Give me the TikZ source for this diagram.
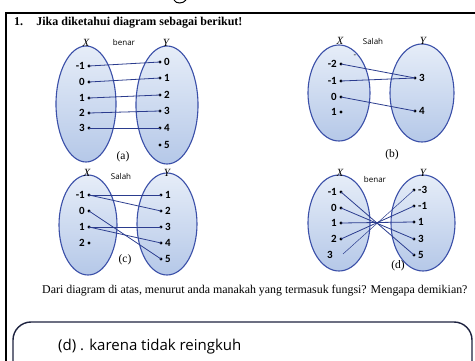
\documentclass[tikz,border=0pt]{standalone}
\usepackage{fontspec}
\usetikzlibrary{shapes.geometric}
\setmainfont{Liberation Serif}
\newfontfamily\numfont{Carlito}
\newfontfamily\handfont{Open Sans}
\definecolor{ellline}{HTML}{3A4FA8}
\definecolor{ellA}{HTML}{E6EDF8}
\definecolor{ellB}{HTML}{B5C8E8}
\definecolor{lnkcol}{HTML}{2B3C8E}
\definecolor{boxcol}{HTML}{1E2340}
\tikzset{
  ell/.style={draw=ellline, line width=1.1pt, top color=ellA, bottom color=ellB},
  lnk/.style={draw=lnkcol, line width=0.8pt},
  dotnode/.style={circle, fill=black, inner sep=0pt, minimum size=3.2pt},
  num/.style={font=\numfont\bfseries\fontsize{11}{11}\selectfont, inner sep=1pt},
  setlab/.style={font=\itshape\fontsize{11}{11}\selectfont, inner sep=0pt},
  sublab/.style={font=\fontsize{11.5}{12}\selectfont, inner sep=0pt},
  hand/.style={font=\handfont\fontsize{8}{9}\selectfont, inner sep=0pt},
}
\begin{document}
\begin{tikzpicture}[x=1pt,y=-1pt]
\useasboundingbox (0,0) rectangle (475,361);
\fill[white] (0,0) rectangle (475,361);
% fragment at top
\draw[line width=1pt] (174,0) .. controls (176,4) and (183,4) .. (186,0);
% frame
\draw[line width=1.6pt] (6,362) -- (6,13) -- (476,13);
\node[anchor=base west, font=\bfseries\fontsize{12}{13}\selectfont, inner sep=0pt] (title) at (14,26) {1.\hspace{1.1em}Jika diketahui diagram sebagai berikut!};

% ---------- (a)
\node[ell, ellipse, minimum width=60pt, minimum height=116pt] (aX) at (86,104) {};
\node[ell, ellipse, minimum width=62pt, minimum height=118pt] (aY) at (167,105) {};
\node[setlab] (aXl) at (86,43) {X};
\node[setlab] (aYl) at (166,43) {Y};
\node[hand] (aH) at (124,43) {benar};
\node[sublab] (aC) at (123,157) {(a)};
\foreach \v/\yy [count=\i] in {-1/66,0/82,1/98,2/113,3/128}{
  \node[dotnode] (ax\i) at (89,\yy) {};
  \node[num, anchor=east] (axl\i) at (86,\yy) {\v};
}
\foreach \v/\yy [count=\i] in {0/62,1/78,2/95,3/111,4/128,5/145}{
  \node[dotnode] (ay\i) at (160,\yy) {};
  \node[num, anchor=west] (ayl\i) at (163,\yy) {\v};
}
\foreach \a/\b in {1/1,2/2,3/3,4/4,5/5}{\draw[lnk] (ax\a.center) -- (ay\b.center);}

% ---------- (b)
\node[ell, ellipse, minimum width=62pt, minimum height=96pt] (bX) at (339,93) {};
\node[ell, ellipse, minimum width=64pt, minimum height=98pt] (bY) at (422,93) {};
\node[setlab] (bXl) at (340,41) {X};
\node[setlab] (bYl) at (423,41) {Y};
\node[hand] (bH) at (373,42) {Salah};
\node[hand] (bDash) at (355,56) {-};
\node[sublab] (bC) at (392,155) {(b)};
\foreach \v/\yy [count=\i] in {-2/64,-1/81,0/97,1/112}{
  \node[dotnode] (bx\i) at (341,\yy) {};
  \node[num, anchor=east] (bxl\i) at (338,\yy) {\v};
}
\foreach \v/\yy [count=\i] in {3/78,4/111}{
  \node[dotnode] (by\i) at (415,\yy) {};
  \node[num, anchor=west] (byl\i) at (418,\yy) {\v};
}
\foreach \a/\b in {1/1,2/1,3/2}{\draw[lnk] (bx\a.center) -- (by\b.center);}

% ---------- (c)
\node[ell, ellipse, minimum width=58pt, minimum height=100pt] (cX) at (88,225) {};
\node[ell, ellipse, minimum width=60pt, minimum height=102pt] (cY) at (167,224) {};
\node[setlab] (cXl) at (87,173) {X};
\node[setlab] (cYl) at (167,173) {Y};
\node[hand] (cH) at (121,177) {Salah};
\node[sublab] (cC) at (125,260) {(c)};
\foreach \v/\yy [count=\i] in {-1/195,0/211,1/227,2/243}{
  \node[dotnode] (cx\i) at (89,\yy) {};
  \node[num, anchor=east] (cxl\i) at (86,\yy) {\v};
}
\foreach \v/\yy [count=\i] in {1/195,2/211,3/227,4/243,5/259}{
  \node[dotnode] (cy\i) at (161,\yy) {};
  \node[num, anchor=west] (cyl\i) at (164,\yy) {\v};
}
\foreach \a/\b in {1/1,1/2,2/5,3/3,3/4}{\draw[lnk] (cx\a.center) -- (cy\b.center);}

% ---------- (d)
\node[ell, ellipse, minimum width=62pt, minimum height=96pt] (dX) at (339,223) {};
\node[ell, ellipse, minimum width=64pt, minimum height=96pt] (dY) at (423,223) {};
\node[setlab] (dXl) at (340,173) {X};
\node[setlab] (dYl) at (423,173) {Y};
\node[hand] (dH) at (375,180) {benar};
\node[sublab] (dC) at (398,266) {(d)};
\foreach \v/\yy [count=\i] in {-1/192,0/208,1/223,2/239}{
  \node[dotnode] (dx\i) at (341,\yy) {};
  \node[num, anchor=east] (dxl\i) at (338,\yy) {\v};
}
\coordinate (dx5) at (343,254);
\node[num, anchor=east] (dxl5) at (334,255) {3};
\foreach \v/\yy [count=\i] in {-3/190,-1/206,1/222,3/239,5/255}{
  \node[dotnode] (dy\i) at (414,\yy) {};
  \node[num, anchor=west] (dyl\i) at (417,\yy) {\v};
}
\draw[lnk] (dx1.center) -- (dy5.center);
\draw[lnk] (dx2.center) -- (dy4.center);
\draw[lnk] (dx3.center) -- (dy3.center);
\draw[lnk] (dx4.center) -- (dy2.center);
\draw[lnk, line width=0.5pt] (dx5) -- (dy1.center);

% question
\node[anchor=base west, font=\fontsize{11.9}{13}\selectfont, inner sep=0pt] (q) at (42,294) {Dari diagram di atas, menurut anda manakah yang termasuk fungsi? Mengapa demikian?};

% answer box
\draw[boxcol, line width=1.4pt, rounded corners=18pt] (13,370) -- (13,322) -- (472,322) -- (472,370);
\node[anchor=base west, font=\handfont\fontsize{15}{16}\selectfont, inner sep=0pt] (ans) at (58,350) {(d) . karena tidak reingkuh};
\end{tikzpicture}
\end{document}
